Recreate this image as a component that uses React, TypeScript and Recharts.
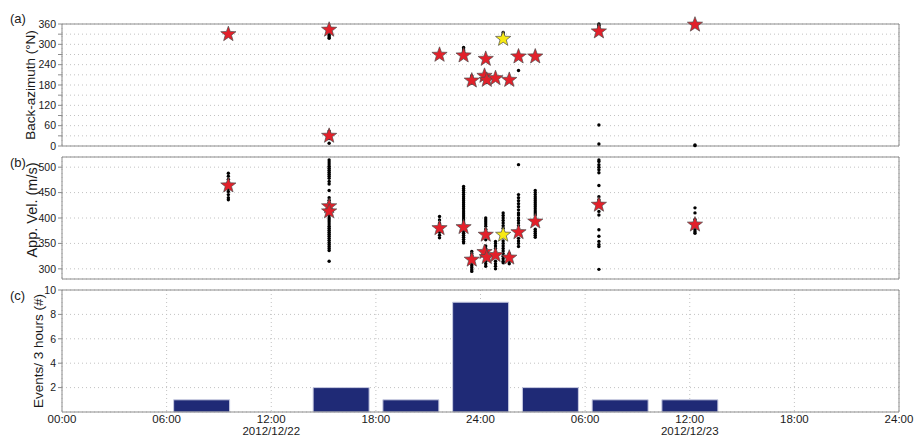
import React from "react";
import { Bar, CartesianGrid, ComposedChart, Scatter, XAxis, YAxis } from "recharts";

const FONT = '"Liberation Sans", Arial, Helvetica, sans-serif';
const FRAME = "#8c8c8c";
const GRID = "#c2c2c2";
const TEXT = "#1a1a1a";

// x axis: hours since 2012/12/22 00:00
const hourTicks = [0, 6, 12, 18, 24, 30, 36, 42, 48];
const timeLabels = ["00:00", "06:00", "12:00", "18:00", "24:00", "06:00", "12:00", "18:00", "24:00"];
const dateLabels = ["", "", "2012/12/22", "", "", "", "2012/12/23", "", ""];

const bazTicks = [0, 30, 60, 90, 120, 150, 180, 210, 240, 270, 300, 330, 360];
const velTicks = [300, 350, 400, 450, 500];
const countTicks = [2, 4, 6, 8, 10];

// located events (red stars)
const eventHours = [9.54, 15.32, 15.32, 21.65, 23.03, 23.5, 24.23, 24.3, 24.36, 24.86, 25.65, 26.18, 27.14, 30.79, 36.3];
const eventBaz = [330, 343, 30, 269, 267, 193, 207, 257, 195, 200, 195, 264, 264, 338, 358];
const eventVel = [464, 423, 413, 380, 382, 318, 333, 367, 323, 327, 322, 372, 393, 426, 387];

// highlighted event (yellow star)
const markedHours = [25.3];
const markedBaz = [316];
const markedVel = [367];

// individual detections (black dots): [hour, value]
const bazDots: [number, number][] = [
  [9.54, 330],
  [15.32, 318], [15.32, 322], [15.32, 326], [15.32, 331], [15.32, 336], [15.32, 341],
  [15.32, 8], [15.32, 22], [15.32, 27], [15.32, 33], [15.32, 38], [15.32, 44],
  [21.65, 269],
  [23.03, 266], [23.03, 271], [23.03, 276], [23.03, 281], [23.03, 286], [23.03, 291],
  [23.5, 186], [23.5, 191], [23.5, 196], [23.5, 202], [23.5, 207],
  [24.23, 200], [24.23, 206], [24.23, 212],
  [24.3, 256], [24.3, 261],
  [24.36, 188], [24.36, 194],
  [24.86, 198], [24.86, 203],
  [25.3, 318], [25.3, 324], [25.3, 330], [25.3, 335],
  [25.65, 194],
  [26.18, 223], [26.18, 260], [26.18, 265],
  [27.14, 262],
  [30.79, 336], [30.79, 341], [30.79, 346], [30.79, 351], [30.79, 356], [30.79, 360],
  [30.79, 62], [30.79, 6],
  [36.3, 358], [36.3, 1], [36.3, 3],
];

const velDots: [number, number][] = [
  [9.54, 488], [9.54, 482], [9.54, 476], [9.54, 470], [9.54, 458], [9.54, 452], [9.54, 446], [9.54, 440], [9.54, 436],
  [15.32, 514], [15.32, 510], [15.32, 506], [15.32, 502], [15.32, 498], [15.32, 494], [15.32, 490], [15.32, 486],
  [15.32, 482], [15.32, 478], [15.32, 472], [15.32, 467], [15.32, 454], [15.32, 440], [15.32, 435], [15.32, 430],
  [15.32, 405], [15.32, 400], [15.32, 396], [15.32, 392], [15.32, 388], [15.32, 384], [15.32, 380], [15.32, 376],
  [15.32, 372], [15.32, 368], [15.32, 364], [15.32, 360], [15.32, 356], [15.32, 352], [15.32, 348], [15.32, 344],
  [15.32, 340], [15.32, 336], [15.32, 315],
  [21.65, 403], [21.65, 396], [21.65, 390], [21.65, 372], [21.65, 366], [21.65, 361],
  [23.03, 462], [23.03, 458], [23.03, 454], [23.03, 450], [23.03, 446], [23.03, 442], [23.03, 438], [23.03, 434],
  [23.03, 430], [23.03, 426], [23.03, 422], [23.03, 418], [23.03, 414], [23.03, 410], [23.03, 406], [23.03, 402],
  [23.03, 398], [23.03, 394], [23.03, 390], [23.03, 374], [23.03, 370], [23.03, 366], [23.03, 362], [23.03, 358],
  [23.03, 354], [23.03, 351],
  [23.5, 334], [23.5, 330], [23.5, 326], [23.5, 310], [23.5, 306], [23.5, 302], [23.5, 298], [23.5, 295],
  [24.3, 400], [24.3, 396], [24.3, 392], [24.3, 388], [24.3, 384], [24.3, 378], [24.3, 357],
  [24.3, 345], [24.3, 340], [24.3, 335], [24.3, 315], [24.3, 310], [24.3, 305],
  [24.86, 354], [24.86, 350], [24.86, 345], [24.86, 340], [24.86, 315], [24.86, 310], [24.86, 305], [24.86, 300],
  [25.3, 410], [25.3, 405], [25.3, 400], [25.3, 395], [25.3, 390], [25.3, 385], [25.3, 380], [25.3, 355],
  [25.3, 350], [25.3, 345], [25.3, 340], [25.3, 335], [25.3, 330], [25.3, 325], [25.3, 320], [25.3, 315], [25.3, 312],
  [25.65, 330], [25.65, 315], [25.65, 310],
  [26.18, 505], [26.18, 446], [26.18, 440], [26.18, 434], [26.18, 428], [26.18, 422], [26.18, 416], [26.18, 410],
  [26.18, 406], [26.18, 400], [26.18, 395], [26.18, 390], [26.18, 385], [26.18, 360], [26.18, 355], [26.18, 350], [26.18, 344],
  [27.14, 454], [27.14, 450], [27.14, 446], [27.14, 442], [27.14, 438], [27.14, 434], [27.14, 430], [27.14, 426],
  [27.14, 422], [27.14, 418], [27.14, 414], [27.14, 410], [27.14, 406], [27.14, 378], [27.14, 374], [27.14, 370],
  [27.14, 366], [27.14, 362],
  [30.79, 514], [30.79, 511], [30.79, 505], [30.79, 500], [30.79, 495], [30.79, 489], [30.79, 464], [30.79, 442],
  [30.79, 436], [30.79, 413], [30.79, 406], [30.79, 377], [30.79, 364], [30.79, 354], [30.79, 348], [30.79, 344], [30.79, 299],
  [36.3, 420], [36.3, 410], [36.3, 397], [36.3, 377], [36.3, 373], [36.3, 370],
];

// events per bin
const binCenters = [0, 4, 8, 12, 16, 20, 24, 28, 32, 36, 40, 44, 48];
const binCounts = [0, 0, 1, 0, 2, 1, 9, 2, 1, 1, 0, 0, 0];

const toPoints = (pairs: [number, number][]) => pairs.map(([h, v]) => ({ h, v }));
const zipPoints = (hs: number[], vs: number[]) => hs.map((h, i) => ({ h, v: vs[i] }));

const bazDotData = toPoints(bazDots);
const velDotData = toPoints(velDots);
const bazStarData = zipPoints(eventHours, eventBaz);
const velStarData = zipPoints(eventHours, eventVel);
const bazMarkedData = zipPoints(markedHours, markedBaz);
const velMarkedData = zipPoints(markedHours, markedVel);
const binData = binCenters.map((h, i) => ({ h, n: binCounts[i] }));

const WIDTH = 919;
const MARGIN_X = { left: 32, right: 20 };

function Dot(props: any) {
  const { cx, cy } = props;
  if (cx == null || cy == null) return null;
  return <circle cx={cx} cy={cy} r={1.7} fill="#000" />;
}

function makeStar(fill: string) {
  return (props: any) => {
    const { cx, cy } = props;
    if (cx == null || cy == null) return null;
    const pts: string[] = [];
    for (let i = 0; i < 10; i++) {
      const r = i % 2 === 0 ? 8 : 3.3;
      const a = -Math.PI / 2 + (i * Math.PI) / 5;
      pts.push(`${cx + r * Math.cos(a)},${cy + r * Math.sin(a)}`);
    }
    return <polygon points={pts.join(" ")} fill={fill} stroke="#4d4d4d" strokeWidth={0.7} />;
  };
}

const RedStar = makeStar("#e3202a");
const YellowStar = makeStar("#f7ea14");

function TimeTick(props: any) {
  const { x, y, payload } = props;
  const i = hourTicks.indexOf(payload.value);
  return (
    <g fontFamily={FONT} fontSize={11.5} fill={TEXT}>
      <text x={x} y={y} dy={10.5} textAnchor="middle">
        {timeLabels[i]}
      </text>
      {dateLabels[i] ? (
        <text x={x} y={y} dy={23} textAnchor="middle">
          {dateLabels[i]}
        </text>
      ) : null}
    </g>
  );
}

const yTick = { fontSize: 10.5, fill: TEXT, fontFamily: FONT };

type Pt = { h: number; v: number };

function ScatterPanel({
  height,
  top,
  bottom,
  domain,
  ticks,
  format,
  dots,
  stars,
  marked,
}: {
  height: number;
  top: number;
  bottom: number;
  domain: [number, number];
  ticks: number[];
  format: (v: number) => string;
  dots: Pt[];
  stars: Pt[];
  marked: Pt[];
}) {
  return (
    <ComposedChart width={WIDTH} height={height} margin={{ top, bottom, ...MARGIN_X }}>
      <CartesianGrid xAxisId="b" yAxisId="l" stroke={GRID} strokeDasharray="1 3" />
      <XAxis
        xAxisId="b"
        type="number"
        dataKey="h"
        domain={[0, 48]}
        ticks={hourTicks}
        tick={false}
        tickSize={7}
        mirror
        stroke={FRAME}
      />
      <XAxis
        xAxisId="t"
        orientation="top"
        type="number"
        dataKey="h"
        domain={[0, 48]}
        ticks={hourTicks}
        tick={false}
        tickSize={7}
        mirror
        stroke={FRAME}
      />
      <YAxis
        yAxisId="l"
        type="number"
        domain={domain}
        ticks={ticks}
        tickFormatter={format}
        width={30}
        tickSize={4}
        tickMargin={2}
        tick={yTick}
        stroke={FRAME}
        interval={0}
      />
      <YAxis
        yAxisId="r"
        orientation="right"
        type="number"
        domain={domain}
        ticks={ticks}
        tick={false}
        tickSize={7}
        mirror
        stroke={FRAME}
      />
      <Scatter xAxisId="b" yAxisId="l" data={dots} dataKey="v" shape={Dot} isAnimationActive={false} />
      <Scatter xAxisId="b" yAxisId="l" data={stars} dataKey="v" shape={RedStar} isAnimationActive={false} />
      <Scatter xAxisId="b" yAxisId="l" data={marked} dataKey="v" shape={YellowStar} isAnimationActive={false} />
    </ComposedChart>
  );
}

function CountPanel() {
  return (
    <ComposedChart width={WIDTH} height={156} data={binData} margin={{ top: 10, bottom: 0, ...MARGIN_X }}>
      <CartesianGrid xAxisId="b" yAxisId="l" stroke={GRID} strokeDasharray="1 3" />
      <XAxis
        xAxisId="b"
        type="number"
        dataKey="h"
        domain={[0, 48]}
        ticks={hourTicks}
        tick={<TimeTick />}
        tickSize={0}
        tickMargin={0}
        height={24}
        stroke={FRAME}
        interval={0}
      />
      <XAxis
        xAxisId="in"
        type="number"
        dataKey="h"
        domain={[0, 48]}
        ticks={hourTicks}
        tick={false}
        tickSize={7}
        mirror
        axisLine={false}
        stroke={FRAME}
      />
      <XAxis
        xAxisId="t"
        orientation="top"
        type="number"
        dataKey="h"
        domain={[0, 48]}
        ticks={hourTicks}
        tick={false}
        tickSize={7}
        mirror
        stroke={FRAME}
      />
      <YAxis
        yAxisId="l"
        type="number"
        domain={[0, 10]}
        ticks={countTicks}
        width={30}
        tickSize={4}
        tickMargin={2}
        tick={yTick}
        stroke={FRAME}
        interval={0}
      />
      <YAxis
        yAxisId="r"
        orientation="right"
        type="number"
        domain={[0, 10]}
        ticks={countTicks}
        tick={false}
        tickSize={7}
        mirror
        stroke={FRAME}
      />
      <Bar
        xAxisId="b"
        yAxisId="l"
        dataKey="n"
        fill="#1f2a76"
        stroke="#c9cce2"
        strokeWidth={1}
        barSize={56}
        isAnimationActive={false}
      />
    </ComposedChart>
  );
}

const axisTitle = (text: string, cx: number, cy: number, size: number) => (
  <div
    style={{
      position: "absolute",
      left: cx,
      top: cy,
      transform: "translate(-50%, -50%) rotate(-90deg)",
      whiteSpace: "nowrap",
      fontSize: size,
      color: TEXT,
      lineHeight: 1,
    }}
  >
    {text}
  </div>
);

const panelTag = (text: string, x: number, y: number) => (
  <div style={{ position: "absolute", left: x, top: y, fontSize: 13, color: TEXT, lineHeight: 1 }}>{text}</div>
);

export default function App() {
  return (
    <div
      style={{
        position: "absolute",
        left: 0,
        top: 0,
        width: WIDTH,
        height: 436,
        background: "#fff",
        fontFamily: FONT,
        overflow: "hidden",
      }}
    >
      <div style={{ position: "absolute", left: 0, top: 0 }}>
        <ScatterPanel
          height={156}
          top={24}
          bottom={10}
          domain={[0, 360]}
          ticks={bazTicks}
          format={(v) => (v % 60 === 0 ? String(v) : "")}
          dots={bazDotData}
          stars={bazStarData}
          marked={bazMarkedData}
        />
      </div>
      <div style={{ position: "absolute", left: 0, top: 150 }}>
        <ScatterPanel
          height={138}
          top={7}
          bottom={9}
          domain={[280, 520]}
          ticks={velTicks}
          format={(v) => String(v)}
          dots={velDotData}
          stars={velStarData}
          marked={velMarkedData}
        />
      </div>
      <div style={{ position: "absolute", left: 0, top: 280 }}>
        <CountPanel />
      </div>
      {axisTitle("Back-azimuth (°N)", 31, 85, 13.5)}
      {axisTitle("App. Vel. (m/s)", 32, 210, 14.5)}
      {axisTitle("Events/ 3 hours (#)", 39, 351, 13.5)}
      {panelTag("(a)", 10, 12)}
      {panelTag("(b)", 10, 156)}
      {panelTag("(c)", 10, 289)}
    </div>
  );
}
